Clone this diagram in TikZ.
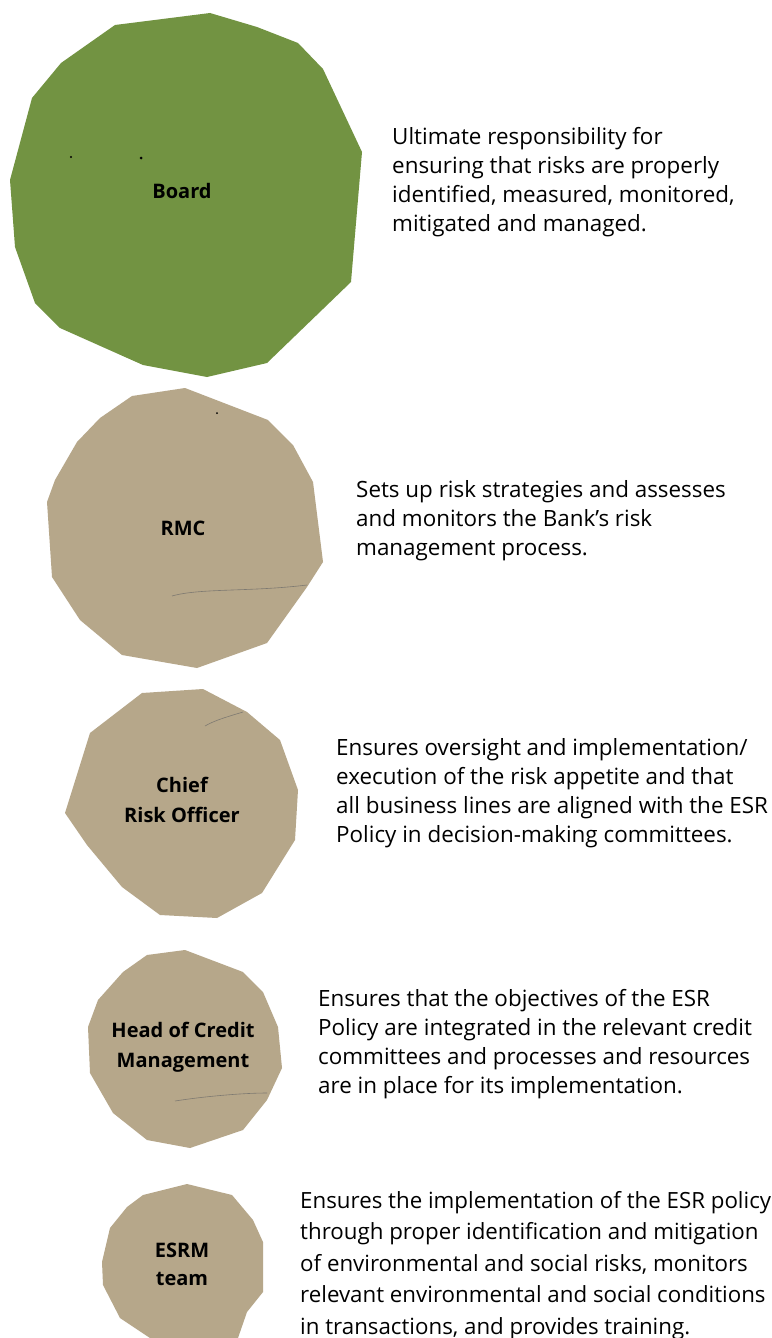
\documentclass[tikz,border=0pt]{standalone}
\usepackage{fontspec}
\setmainfont{Open Sans}
\definecolor{boardgreen}{RGB}{114,147,66}
\definecolor{bodytan}{RGB}{182,167,138}
\begin{document}
\begin{tikzpicture}[x=1pt,y=-1pt,
  lbl/.style={font=\fontsize{20}{30}\selectfont\bfseries,align=center,inner sep=0pt},
  desc/.style={font=\fontsize{22.4}{29}\selectfont,align=left,anchor=base west,inner sep=0pt},
  crack/.style={black!60,line width=0.6pt,opacity=0.7}]
\useasboundingbox (0,0) rectangle (771,1338);
\fill[white] (0,0) rectangle (771,1338);

% blobs
\fill[boardgreen] (115,25) -- (210,13) -- (257,27) -- (298,43) -- (323,69) -- (362,152) -- (351,282) -- (267,363) -- (207,377) -- (143,365) -- (60,328) -- (35,303) -- (15,247) -- (10,180) -- (32,98) -- (61,63) -- cycle;
\fill[bodytan] (132,396) -- (185,388) -- (268,420) -- (293,445) -- (313,482) -- (323,562) -- (307,587) -- (267,643) -- (197,668) -- (122,655) -- (80,620) -- (52,577) -- (47,502) -- (55,480) -- (77,442) -- (100,418) -- cycle;
\fill[bodytan] (142,693) -- (203,689) -- (247,712) -- (280,740) -- (298,790) -- (295,840) -- (262,893) -- (217,918) -- (160,915) -- (122,887) -- (87,845) -- (65,813) -- (90,733) -- cycle;
\fill[bodytan] (147,955) -- (185,950) -- (243,972) -- (263,992) -- (278,1027) -- (282,1068) -- (267,1100) -- (243,1130) -- (190,1148) -- (147,1140) -- (113,1113) -- (90,1073) -- (88,1027) -- (98,1000) -- (123,972) -- cycle;
\fill[bodytan] (143,1195) -- (187,1184) -- (232,1195) -- (253,1220) -- (263,1242) -- (263,1292) -- (247,1312) -- (238,1338) -- (150,1338) -- (120,1318) -- (103,1285) -- (102,1262) -- (110,1228) -- (127,1207) -- cycle;

% cracks
\draw[crack] (172,596) .. controls (200,588) and (250,592) .. (307,585);
\draw[crack] (205,726) .. controls (215,720) and (230,716) .. (243,712);
\draw[crack] (175,1101) .. controls (200,1097) and (240,1093) .. (267,1093);
\fill[black] (141,158) circle (1.5pt);
\fill[black] (71,157) circle (1.1pt);
\fill[black] (217,413) circle (1pt);

% labels
\node[lbl] (board) at (182,191) {Board};
\node[lbl] (rmc) at (183,528) {RMC};
\node[lbl] (cro) at (182,800) {Chief\\Risk Officer};
\node[lbl] (head) at (183,1047) {Head of Credit\\Management};
\node[lbl,font=\fontsize{20}{28}\selectfont\bfseries] (esrm) at (182,1264) {ESRM\\team};

% descriptions (anchored on the last line)
\node[desc] (boardtxt) at (392,231) {Ultimate responsibility for\\ensuring that risks are properly\\identified, measured, monitored,\\mitigated and managed.};
\node[desc] (rmctxt) at (356,555) {Sets up risk strategies and assesses\\and monitors the Bank’s risk\\management process.};
\node[desc] (crotxt) at (336,842) {Ensures oversight and implementation/\\execution of the risk appetite and that\\all business lines are aligned with the ESR\\Policy in decision-making committees.};
\node[desc] (headtxt) at (318,1093) {Ensures that the objectives of the ESR\\Policy are integrated in the relevant credit\\committees and processes and resources\\are in place for its implementation.};
\node[desc,font=\fontsize{22.3}{31.5}\selectfont] (esrmtxt) at (300,1334) {Ensures the implementation of the ESR policy\\through proper identification and mitigation\\of environmental and social risks, monitors\\relevant environmental and social conditions\\in transactions, and provides training.};
\end{tikzpicture}
\end{document}
